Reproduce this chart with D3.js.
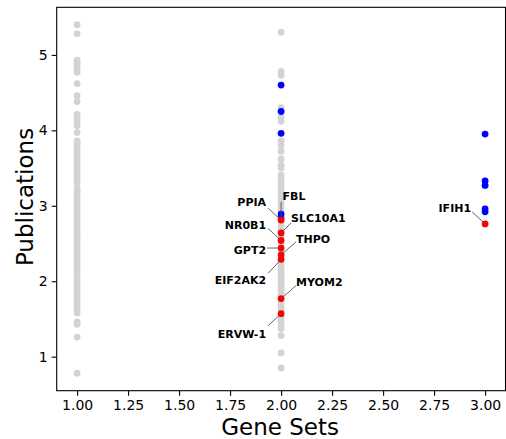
<!DOCTYPE html>
<html>
<head>
<meta charset="utf-8">
<script src="https://cdn.jsdelivr.net/npm/d3@7"></script>
<style>
  html, body { margin: 0; padding: 0; background: #fff; }
  svg { display: block; font-family: "DejaVu Sans", sans-serif; }
</style>
</head>
<body>
<svg id="chart" width="506" height="439"></svg>
<script>
// ---- data ----
const xTicks = [1.00, 1.25, 1.50, 1.75, 2.00, 2.25, 2.50, 2.75, 3.00];
const yTicks = [1, 2, 3, 4, 5];

// gray (background) genes, gene-set count = 1
const gray1 = [5.40, 5.28, 4.93, 4.89, 4.85, 4.80, 4.77, 4.62, 4.46, 4.38, 4.21, 4.18, 4.14, 4.10, 4.06,
  3.97, 3.86, 3.83, 3.79, 3.75, 3.71, 3.67, 3.63, 3.59, 3.55, 3.51, 3.47, 3.43, 3.39, 3.35, 3.31,
  3.24, 3.21, 3.17, 3.13, 3.09, 3.05, 3.01, 2.97, 2.93, 2.89, 2.85, 2.81, 2.77, 2.73, 2.69, 2.65,
  2.61, 2.57, 2.53, 2.49, 2.45, 2.41, 2.37, 2.33, 2.29, 2.25, 2.21, 2.17, 2.12, 2.06, 2.02, 1.98,
  1.94, 1.90, 1.86, 1.82, 1.78, 1.74, 1.70, 1.66, 1.62, 1.58, 1.46, 1.43, 1.26, 0.78];
// gray genes, gene-set count = 2
const gray2 = [5.30, 4.78, 4.73, 4.30, 4.17, 4.12, 3.86, 3.80, 3.72, 3.62, 3.54, 3.50, 3.41, 3.36,
  3.30, 3.24, 3.19, 3.14, 3.08, 3.03, 2.98, 2.93, 2.76, 2.72, 2.68, 2.60, 2.50, 2.40, 2.24, 2.20,
  2.16, 2.12, 2.08, 2.04, 2.00, 1.96, 1.92, 1.88, 1.84, 1.81, 1.73, 1.69, 1.65, 1.61, 1.52, 1.47,
  1.42, 1.37, 1.28, 1.05, 0.85];
// blue genes
const blue2 = [4.60, 4.25, 3.96, 2.89];
const blue3 = [3.95, 3.33, 3.27, 2.96, 2.92];
// red (labelled) genes
const redNames = ["FBL", "PPIA", "SLC10A1", "NR0B1", "GPT2", "THPO", "EIF2AK2", "MYOM2", "ERVW-1", "IFIH1"];
const redSets  = [2, 2, 2, 2, 2, 2, 2, 2, 2, 3];
const redPubs  = [2.84, 2.81, 2.64, 2.54, 2.44, 2.35, 2.29, 1.77, 1.57, 2.76];

// label layout (pixel offsets from point: text anchor, line start)
const labelLayout = {
  "FBL":     {dx: 1.5,  dy: -18, anchor: "start", lx: 0,    ly: -16},
  "PPIA":    {dx: -15,  dy: -14, anchor: "end",   lx: -13,  ly: -12},
  "SLC10A1": {dx: 10,   dy: -11, anchor: "start", lx: 10,   ly: -10},
  "NR0B1":   {dx: -15,  dy: -11, anchor: "end",   lx: -13,  ly: -12},
  "GPT2":    {dx: -15,  dy: 6,   anchor: "end",   lx: -14,  ly: 0},
  "THPO":    {dx: 15,   dy: -12, anchor: "start", lx: 15,   ly: -13},
  "EIF2AK2": {dx: -15,  dy: 25,  anchor: "end",   lx: -13,  ly: 14},
  "MYOM2":   {dx: 15,   dy: -13, anchor: "start", lx: 15,   ly: -13},
  "ERVW-1":  {dx: -15,  dy: 24,  anchor: "end",   lx: -13,  ly: 12},
  "IFIH1":   {dx: -14,  dy: -12, anchor: "end",   lx: -13,  ly: -12}
};

// ---- layout ----
const svg = d3.select("#chart");
const L = 56.7, R = 505.5, T = 7.3, B = 390.7;
const x = d3.scaleLinear().domain([0.9, 3.1]).range([L, R]);
const y = d3.scaleLinear().domain([0.549, 5.631]).range([B, T]);

// axes
const xAxis = d3.axisBottom(x).tickValues(xTicks).tickFormat(d3.format(".2f")).tickSize(5).tickPadding(4);
const yAxis = d3.axisLeft(y).tickValues(yTicks).tickFormat(d3.format("d")).tickSize(5).tickPadding(4);

const gx = svg.append("g").attr("transform", `translate(0,${B})`).call(xAxis);
const gy = svg.append("g").attr("transform", `translate(${L},0)`).call(yAxis);
[gx, gy].forEach(g => {
  g.select(".domain").remove();
  g.selectAll(".tick line").attr("stroke", "#000").attr("stroke-width", 1.1);
  g.selectAll(".tick text").attr("fill", "#000").style("font-size", "14px")
    .style("font-family", "'DejaVu Sans', sans-serif");
});

// frame
svg.append("rect").attr("x", L).attr("y", T).attr("width", R - L).attr("height", B - T)
  .attr("fill", "none").attr("stroke", "#000").attr("stroke-width", 1.1);

// points
const pts = svg.append("g");
const r = 3.4;
function dots(vals, set, color) {
  pts.selectAll(null).data(vals).enter().append("circle")
    .attr("cx", x(set)).attr("cy", d => y(d)).attr("r", r).attr("fill", color);
}
dots(gray1, 1, "#d3d3d3");
dots(gray2, 2, "#d3d3d3");

const reds = redNames.map((n, i) => ({name: n, set: redSets[i], pub: redPubs[i]}));
pts.selectAll(null).data(reds).enter().append("circle")
  .attr("cx", d => x(d.set)).attr("cy", d => y(d.pub)).attr("r", r).attr("fill", "#ff0000");
dots(blue2, 2, "#0000ff");
dots(blue3, 3, "#0000ff");

// leader lines and labels
const ann = svg.append("g");
reds.forEach(d => {
  const p = labelLayout[d.name];
  const px = x(d.set), py = y(d.pub);
  ann.append("line")
    .attr("x1", px + p.lx).attr("y1", py + p.ly).attr("x2", px).attr("y2", py)
    .attr("stroke", "#555").attr("stroke-width", 0.9);
  ann.append("text")
    .attr("x", px + p.dx).attr("y", py + p.dy)
    .attr("text-anchor", p.anchor)
    .style("font-size", "11px").style("font-weight", "bold")
    .attr("fill", "#000").text(d.name);
});

// axis titles
svg.append("text").attr("x", (L + R) / 2 - 1).attr("y", 435)
  .attr("text-anchor", "middle").style("font-size", "23px").attr("fill", "#000").text("Gene Sets");
svg.append("text").attr("transform", `translate(33,197) rotate(-90)`)
  .attr("text-anchor", "middle").style("font-size", "23px").attr("fill", "#000").text("Publications");
</script>
</body>
</html>
